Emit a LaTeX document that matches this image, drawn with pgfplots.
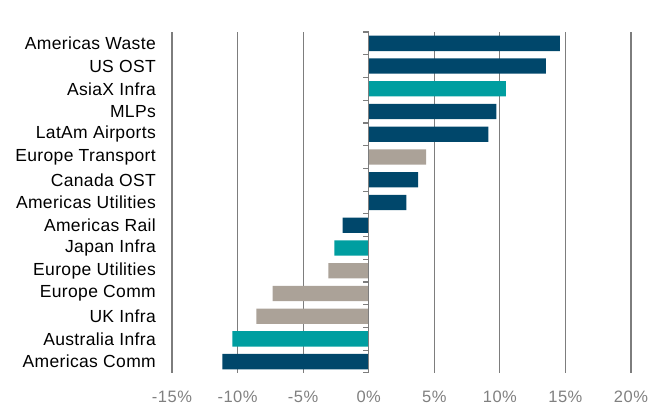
\documentclass[border=0pt]{standalone}
\usepackage{fontspec}
\setmainfont{Liberation Sans}
\newfontfamily\labfont{Liberation Sans}[LetterSpace=2]
\newfontfamily\tickfont{Liberation Sans}[LetterSpace=3]
\usepackage{pgfplots}
\pgfplotsset{compat=1.18}
\definecolor{cblue}{RGB}{0,71,107}
\definecolor{cteal}{RGB}{0,158,160}
\definecolor{cgray}{RGB}{171,162,152}
\definecolor{gridc}{RGB}{125,125,125}
\definecolor{tickc}{RGB}{128,128,128}
\begin{document}
\begin{tikzpicture}[x=1pt,y=1pt]
\path[use as bounding box] (0,0) rectangle (664,406);
\begin{axis}[
  at={(172pt,33pt)}, anchor=south west,
  scale only axis, width=459pt, height=341pt,
  xmin=-15, xmax=20, ymin=-0.5, ymax=14.5,
  xbar, bar width=15.3pt,
  axis line style={draw=none},
  xtick={-15,-10,...,20},
  xmajorgrids, grid style={gridc, line width=1.2pt},
  major tick length=0pt,
  /pgf/number format/assume math mode=true,
  xticklabel={\pgfmathprintnumber{\tick}\%},
  xticklabel style={font=\tickfont\fontsize{16.5}{19}\selectfont, text=tickc, anchor=north, inner sep=0pt, yshift=-18pt},
  ytick={0,...,14},
  yticklabels={Americas Comm, Australia Infra, UK Infra, Europe Comm, Europe Utilities, Japan Infra, Americas Rail, Americas Utilities, Canada OST, Europe Transport, LatAm Airports, MLPs, AsiaX Infra, US OST, Americas Waste},
  yticklabel style={font=\labfont\fontsize{17.5}{20}\selectfont, text=black, anchor=east, inner sep=0pt, xshift=-16pt},
]
\addplot[fill=cblue, draw=none, bar shift=0pt] coordinates {(14.58,14) (13.51,13) (9.73,11) (9.12,10) (3.76,8) (2.87,7) (-1.98,6) (-11.16,0)};
\addplot[fill=cteal, draw=none, bar shift=0pt] coordinates {(10.46,12) (-2.62,5) (-10.40,1)};
\addplot[fill=cgray, draw=none, bar shift=0pt] coordinates {(4.37,9) (-3.08,4) (-7.32,3) (-8.57,2)};
\draw[gridc, line width=1.2pt] (axis cs:0,-0.5) -- (axis cs:0,14.5);
\pgfplotsinvokeforeach{-0.5,0.5,1.5,2.5,3.5,4.5,5.5,6.5,7.5,8.5,9.5,10.5,11.5,12.5,13.5,14.5}{\draw[gridc, line width=1.2pt] (axis cs:0,#1) -- ++(-6pt,0pt);}
\end{axis}
\end{tikzpicture}
\end{document}
